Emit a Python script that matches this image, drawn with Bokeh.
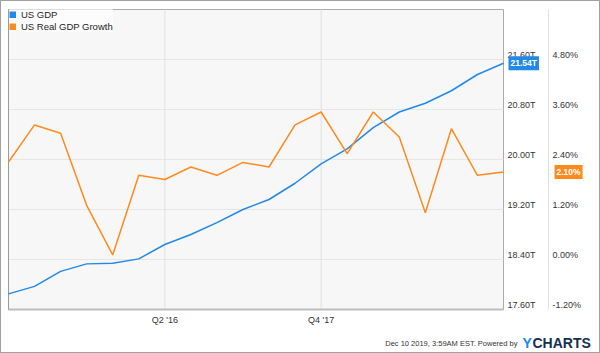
from bokeh.plotting import figure
from bokeh.models import Range1d, Label, Legend, LegendItem
from bokeh.core.properties import value
from bokeh.embed import file_html
from bokeh.resources import INLINE

# ---- data ----
quarters = ["Q4 '14", "Q1 '15", "Q2 '15", "Q3 '15", "Q4 '15", "Q1 '16", "Q2 '16", "Q3 '16",
            "Q4 '16", "Q1 '17", "Q2 '17", "Q3 '17", "Q4 '17", "Q1 '18", "Q2 '18", "Q3 '18",
            "Q4 '18", "Q1 '19", "Q2 '19", "Q3 '19"]
gdp = [17.85, 17.97, 18.21, 18.33, 18.34, 18.41, 18.64, 18.80, 18.99, 19.20,
       19.36, 19.62, 19.93, 20.17, 20.51, 20.76, 20.90, 21.10, 21.36, 21.54]
growth = [2.34, 3.23, 3.03, 1.30, 0.11, 2.02, 1.92, 2.22, 2.02, 2.33,
          2.22, 3.23, 3.54, 2.54, 3.54, 2.94, 1.12, 3.14, 2.02, 2.10]

gdp_ticks = [17.6, 18.4, 19.2, 20.0, 20.8, 21.6]
gdp_tick_labels = ["17.60T", "18.40T", "19.20T", "20.00T", "20.80T", "21.60T"]
pct_ticks = [-1.2, 0.0, 1.2, 2.4, 3.6, 4.8]
pct_tick_labels = ["-1.20%", "0.00%", "1.20%", "2.40%", "3.60%", "4.80%"]
x_tick_labels = ["Q2 '16", "Q4 '17"]

series_names = ["US GDP", "US Real GDP Growth"]
footer_text = "Dec 10 2019, 3:59AM EST.  Powered by"
logo_parts = ["Y", "CHARTS"]

# ---- style / layout constants ----
W, H = 600, 353
PX_L, PX_R, PX_T, PX_B = 7, 502, 8, 308          # plot area in canvas pixels
BLUE = "#2389e6"
ORANGE = "#ff8a1e"
FONT = "Liberation Sans"
LABEL_COLOR = "#333333"

x = list(range(len(quarters)))
x_ticks = [quarters.index(q) for q in x_tick_labels]

# scales: plot area maps data extents onto PX_L..PX_R / PX_T..PX_B
x0, x1 = x[0], x[-1]
kx = (PX_R - PX_L) / (x1 - x0)
g0, g1 = gdp_ticks[0], gdp_ticks[-1] + (gdp_ticks[1] - gdp_ticks[0])
kg = (PX_B - PX_T) / (g1 - g0)
q0, q1 = pct_ticks[0], pct_ticks[-1] + (pct_ticks[1] - pct_ticks[0])
kq = (PX_B - PX_T) / (q1 - q0)

p = figure(width=W, height=H, output_backend="svg", toolbar_location=None,
           x_range=Range1d(x0 - PX_L / kx, x1 + (W - PX_R) / kx),
           y_range=Range1d(g0 - (H - PX_B) / kg, g1 + PX_T / kg),
           x_axis_location=None, y_axis_location=None, min_border=0)
p.extra_y_ranges = {"pct": Range1d(q0 - (H - PX_B) / kq, q1 + PX_T / kq)}
p.grid.visible = False
p.outline_line_color = None
p.background_fill_color = "white"
p.border_fill_color = "white"
p.styles = {"border": "1px solid #a0a0a0", "box-sizing": "border-box"}

# plot area background
p.quad(left=[x0], right=[x1], bottom=[g0], top=[g1],
       fill_color="#f7f7f7", line_color="#aaaaaa", line_width=1)

# grid lines
p.segment(x0=[x0] * (len(gdp_ticks) - 1), x1=[x1] * (len(gdp_ticks) - 1),
          y0=gdp_ticks[1:], y1=gdp_ticks[1:], line_color="#e6e6e6", line_width=1)
p.segment(x0=x_ticks, x1=x_ticks, y0=[g0] * len(x_ticks), y1=[g1] * len(x_ticks),
          line_color="#e0e0e0", line_width=1)
# bottom axis line, left border
p.segment(x0=[x0], x1=[x1], y0=[g0], y1=[g0], line_color="#bdbdbd", line_width=2)
p.segment(x0=[x0], x1=[x0], y0=[g0], y1=[g1], line_color="#9a9a9a", line_width=1)
# separator between the two value scales
sep_x = x1 + 45 / kx
p.segment(x0=[sep_x], x1=[sep_x], y0=[g0], y1=[g1], line_color="#e2e2e2", line_width=1)

# tick labels
p.text(x=[x1] * len(gdp_ticks), y=gdp_ticks, text=gdp_tick_labels, x_offset=4, y_offset=-5,
       text_align="left", text_baseline="middle", text_font=value(FONT),
       text_font_size="9px", text_color=LABEL_COLOR)
p.text(x=[x1] * len(pct_ticks), y=pct_ticks, text=pct_tick_labels, x_offset=49, y_offset=-5,
       text_align="left", text_baseline="middle", text_font=value(FONT),
       text_font_size="9px", text_color=LABEL_COLOR, y_range_name="pct")
p.text(x=x_ticks, y=[g0] * len(x_ticks), text=x_tick_labels, y_offset=10,
       text_align="center", text_baseline="middle", text_font=value(FONT),
       text_font_size="9px", text_color=LABEL_COLOR)

# series
p.line(x, gdp, color=BLUE, line_width=1.5)
p.line(x, growth, color=ORANGE, line_width=1.5, y_range_name="pct")

# legend with square swatches (hidden thick-line renderers used only as swatches)
sw1 = p.line(x, gdp, color=BLUE, line_width=7, visible=False)
sw2 = p.line(x, growth, color=ORANGE, line_width=7, visible=False, y_range_name="pct")
legend = Legend(items=[LegendItem(label=series_names[0], renderers=[sw1]),
                       LegendItem(label=series_names[1], renderers=[sw2])],
                location="top_left", margin=8, padding=3, spacing=1,
                glyph_width=7, glyph_height=7, label_height=10, label_standoff=5,
                label_text_font=FONT, label_text_font_size="9.5px", label_text_color="#222222",
                border_line_color=None, background_fill_color="white", background_fill_alpha=0.6,
                inactive_fill_alpha=0)
p.add_layout(legend)

# value badges
p.add_layout(Label(x=x1, y=gdp[-1], text=f"{gdp[-1]:.2f}T", x_offset=5,
                   text_baseline="middle", text_color="white", text_font=FONT,
                   text_font_size="8.5px", text_font_style="bold",
                   background_fill_color=BLUE, padding=2))
p.add_layout(Label(x=x1, y=growth[-1], y_range_name="pct", text=f"{growth[-1]:.2f}%",
                   x_offset=51, text_baseline="middle", text_color="white", text_font=FONT,
                   text_font_size="8.5px", text_font_style="bold",
                   background_fill_color=ORANGE, padding=2))

# footer
p.add_layout(Label(x=518, y=11, x_units="screen", y_units="screen", text=footer_text,
                   text_align="right", text_baseline="middle", text_font=FONT,
                   text_font_size="7.5px", text_color="#333333"))
p.add_layout(Label(x=521, y=12, x_units="screen", y_units="screen", text=logo_parts[0],
                   text_align="left", text_baseline="middle", text_font=FONT,
                   text_font_size="14px", text_font_style="bold", text_color="#1e8ae6"))
p.add_layout(Label(x=531, y=12, x_units="screen", y_units="screen", text=logo_parts[1],
                   text_align="left", text_baseline="middle", text_font=FONT,
                   text_font_size="14px", text_font_style="bold", text_color="#152f50"))

open("out.html", "w").write(file_html(p, INLINE))
